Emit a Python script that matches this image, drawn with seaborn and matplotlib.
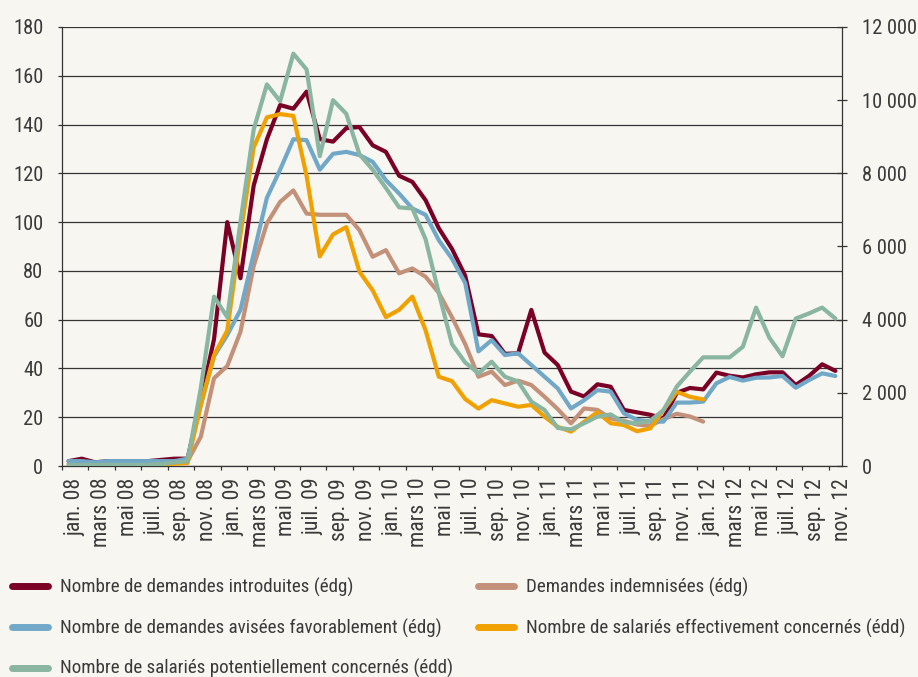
import numpy as np
import pandas as pd
import matplotlib
matplotlib.use("Agg")
import matplotlib.pyplot as plt
import seaborn as sns
from matplotlib.lines import Line2D
from matplotlib import font_manager as fm

# ---------------- data ----------------
tick_labels = ["jan. 08", "mars 08", "mai 08", "juil. 08", "sep. 08", "nov. 08",
               "jan. 09", "mars 09", "mai 09", "juil. 09", "sep. 09", "nov. 09",
               "jan. 10", "mars 10", "mai 10", "juil. 10", "sep. 10", "nov. 10",
               "jan. 11", "mars 11", "mai 11", "juil. 11", "sep. 11", "nov. 11",
               "jan. 12", "mars 12", "mai 12", "juil. 12", "sep. 12", "nov. 12"]

# left axis (édg)
introduites = [2, 3, 1.5, 2, 2, 2, 2, 2.5, 3, 3,
               27, 52, 100, 77, 115, 134, 148, 146.5, 153.5, 134,
               133, 138.5, 139, 131.5, 128.8, 119, 116.5, 109, 97.5, 89,
               78, 54, 53.3, 46, 46.2, 64, 46.5, 41.4, 30.5, 28.5,
               33.5, 32.5, 23, 22, 21, 19.5, 30, 32, 31.4, 38.3,
               37, 36.3, 37.6, 38.4, 38.4, 33.2, 36.9, 41.7, 39]
indemnisees = [1, 1, 1, 1, 1, 1, 1, 1, 2, 2,
               12, 36, 41, 55, 82, 99.5, 108.3, 113, 103.5, 103,
               103, 103, 96.7, 85.8, 88.5, 79, 81, 77.6, 71, 61,
               50, 36.6, 38.7, 33.2, 35, 33.2, 28.4, 23.3, 17.5, 23.6,
               23, 19.5, 18.5, 17, 16.5, 19.2, 21.4, 20.3, 18.2] + [np.nan] * 10
avisees = [2, 2, 1.5, 2, 2, 2, 2, 2, 2, 3,
           25, 45, 53.7, 64, 87, 110, 121.5, 134, 133.6, 121.5,
           128, 128.8, 127.5, 124.7, 117.2, 111.7, 105.6, 103, 92.6, 85,
           75, 47, 51.6, 45.5, 46.2, 41.4, 36.6, 31.8, 23.6, 27,
           31.1, 30.5, 21.6, 18.9, 18.2, 18.2, 26, 26, 26.4, 33.9,
           36.5, 35, 36.2, 36.3, 36.9, 32.1, 35.2, 38, 36.9]

# right axis (édd)
effectifs = [0, 0, 0, 0, 0, 0, 20, 45, 65, 80,
             1670, 3030, 3700, 6330, 8710, 9530, 9620, 9570, 7930, 5730,
             6330, 6530, 5310, 4800, 4070, 4270, 4630, 3710, 2440, 2320,
             1830, 1570, 1800, 1710, 1620, 1670, 1350, 1070, 940, 1210,
             1470, 1170, 1120, 950, 1030, 1530, 2030, 1890, 1820] + [np.nan] * 10
potentiels = [30, 30, 30, 30, 30, 30, 35, 55, 100, 130,
              2130, 4630, 4070, 6670, 9200, 10430, 9970, 11270, 10840, 8470,
              10000, 9630, 8520, 8100, 7600, 7070, 7040, 6200, 4730, 3330,
              2830, 2530, 2850, 2440, 2310, 1760, 1530, 1040, 1000, 1170,
              1350, 1410, 1190, 1170, 1240, 1530, 2170, 2580, 2970, 2970,
              2970, 3260, 4330, 3510, 3000, 4030, 4170, 4330, 4030]

series_names = ["Nombre de demandes introduites (édg)",
                "Demandes indemnisées (édg)",
                "Nombre de demandes avisées favorablement (édg)",
                "Nombre de salariés effectivement concernés (édd)",
                "Nombre de salariés potentiellement concernés (édd)"]

# ---------------- style ----------------
bg = "#f7f6f1"
colors = ["#7a0026", "#c3917a", "#71a8c8", "#f0a100", "#8ab5a0"]
txt = "#3a3a3a"

sns.set_theme(style="white")

# pick a narrow sans font if one is installed
entries = fm.fontManager.ttflist
names = {f.name for f in entries}
family = None
stretch = "normal"
for c in ["Roboto Condensed", "Noto Sans Condensed", "Open Sans Condensed",
          "Liberation Sans Narrow", "Arial Narrow", "DejaVu Sans Condensed"]:
    if c in names:
        family = c
        break
if family is None:
    for fam in ["Roboto", "Noto Sans", "Open Sans", "DejaVu Sans"]:
        if any(f.name == fam and str(f.stretch) in ("condensed", "semi-condensed",
                                                     "extra-condensed")
               for f in entries):
            family = fam
            stretch = "condensed"
            break
if family is None:
    family = "Roboto" if "Roboto" in names else "DejaVu Sans"
plt.rcParams["font.family"] = [family, "DejaVu Sans"]
plt.rcParams["font.stretch"] = stretch

fig = plt.figure(figsize=(9.18, 6.77), dpi=100, facecolor=bg)

# font size so that text widths resemble the reference
r = fig.canvas.get_renderer()
probe = fig.text(0, 0, series_names[0], fontsize=14)
w = probe.get_window_extent(renderer=r).width
probe.remove()
fs = float(np.clip(14 * 295 / w, 10.5, 14.5))
fs_y = fs * 1.08
fs_x = fs * 1.15

ax = fig.add_axes([62 / 918, 1 - 466 / 677, 780 / 918, 439 / 677])
ax.set_facecolor(bg)
ax2 = ax.twinx()

n = len(introduites)
x = np.arange(n)
df = pd.DataFrame({"x": x,
                   "introduites": introduites,
                   "indemnisees": indemnisees,
                   "avisees": avisees,
                   "effectifs": effectifs,
                   "potentiels": potentiels})

lw = 3.0
for col, c in zip(["introduites", "indemnisees", "avisees"], colors[:3]):
    d = df[["x", col]].dropna()
    sns.lineplot(data=d, x="x", y=col, ax=ax, color=c, lw=lw, legend=False)
for col, c in zip(["effectifs", "potentiels"], colors[3:]):
    d = df[["x", col]].dropna()
    sns.lineplot(data=d, x="x", y=col, ax=ax2, color=c, lw=lw, legend=False)

ax.set_xlim(-0.5, n - 0.5)
ax.set_ylim(0, 180)
ax2.set_ylim(0, 12000)

ax.set_yticks(np.arange(0, 181, 20))
ax.set_yticklabels([str(v) for v in range(0, 181, 20)])
ax2.set_yticks(np.arange(0, 12001, 2000))
ax2.set_yticklabels([f"{v:,}".replace(",", " ") for v in range(0, 12001, 2000)])

ax.yaxis.grid(True, color="#333333", lw=0.9)
ax.xaxis.grid(False)
ax.set_axisbelow(True)

ax.set_xticks(np.arange(-0.5, n - 1, 2))
ax.set_xticklabels([])
ax.set_xticks(np.arange(0.5, n, 2), minor=True)
ax.set_xticklabels(tick_labels, minor=True, rotation=90)

ax.set_xlabel("")
ax.set_ylabel("")
ax2.set_ylabel("")

ax.tick_params(axis="y", which="major", direction="out", length=3, width=0.9,
               color="#333333", labelsize=fs_y, labelcolor=txt, pad=10.5, left=True)
ax2.tick_params(axis="y", which="major", direction="inout", length=7, width=0.9,
                color="#333333", labelsize=fs_y, labelcolor=txt, pad=11.0, right=True)
ax.tick_params(axis="x", which="major", direction="out", length=3, width=0.9,
               color="#333333", bottom=True)
ax.tick_params(axis="x", which="minor", length=0, labelsize=fs_x, labelcolor=txt, pad=8.5,
               bottom=True)

for a in (ax, ax2):
    a.spines["top"].set_visible(False)
ax.spines["right"].set_visible(False)
ax2.spines["left"].set_visible(False)
ax2.spines["bottom"].set_visible(False)
for s in ("left", "bottom"):
    ax.spines[s].set_color("#333333")
    ax.spines[s].set_linewidth(0.9)
ax2.spines["right"].set_color("#333333")
ax2.spines["right"].set_linewidth(0.9)

# legend: two columns placed like the reference
def mk(i):
    return Line2D([0], [0], color=colors[i], lw=5, solid_capstyle="round")

common = dict(loc="upper left", frameon=False, fontsize=fs, handlelength=36 / (fs * 100 / 72),
              handletextpad=12 / (fs * 100 / 72), labelspacing=1.13, borderpad=0,
              borderaxespad=0)
top = 1 - 578 / 677
leg1 = fig.legend([mk(0), mk(2), mk(4)], [series_names[i] for i in (0, 2, 4)],
                  bbox_to_anchor=(12 / 918, top), **common)
leg2 = fig.legend([mk(1), mk(3)], [series_names[i] for i in (1, 3)],
                  bbox_to_anchor=(478 / 918, top), **common)
for lg in (leg1, leg2):
    for t in lg.get_texts():
        t.set_color(txt)

fig.savefig("out.png", dpi=100, facecolor=bg)
